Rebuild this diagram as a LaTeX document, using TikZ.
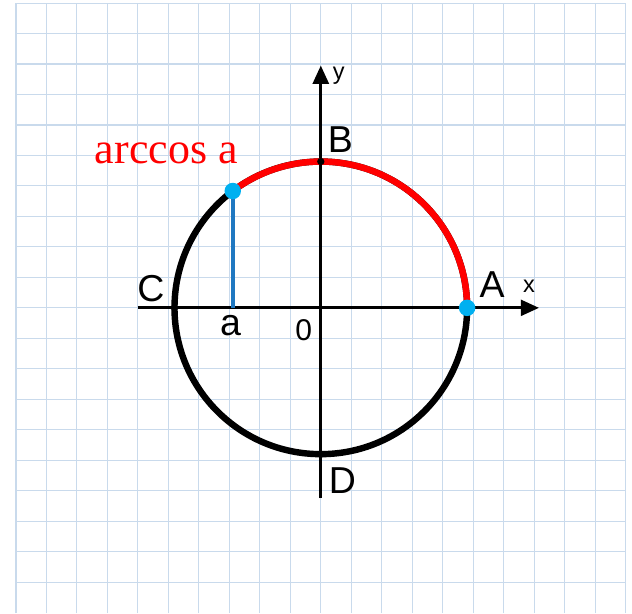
\documentclass[tikz,border=0pt]{standalone}
\usepackage{fontspec}
\setmainfont{Liberation Sans}
\newfontfamily\arcfont{Liberation Serif}
\usetikzlibrary{arrows.meta}
\definecolor{gridBlue}{HTML}{C9DAEC}
\definecolor{arcRed}{HTML}{FF0000}
\definecolor{pointCyan}{HTML}{00B0F0}
\definecolor{lineBlue}{HTML}{1F78C1}

\begin{document}
\begin{tikzpicture}[font=\fontsize{35}{40}\selectfont,
  gridline/.style={gridBlue, line width=1pt},
  axisline/.style={black, line width=2.8pt},
  circleline/.style={black, line width=6pt},
  smalllbl/.style={font=\fontsize{22}{26}\selectfont}]
  \useasboundingbox (-10.525,-10.02) rectangle (10.21,10.1);
  \fill[white] (-10.525,-10.02) rectangle (10.21,10.1);
  \foreach \i in {-10,...,10} \draw[gridline] (\i,-10.02) -- (\i,10);
  \foreach \j in {-9,...,10} \draw[gridline] (-10,\j) -- (10,\j);
  \draw[axisline, -{Triangle[length=0.6cm, width=0.52cm]}] (-6,0) -- (7.16,0);
  \draw[axisline, -{Triangle[length=0.6cm, width=0.52cm]}] (0,-6.24) -- (0,7.95);
  \coordinate (ptA) at (4.8,0);
  \coordinate (ptB) at (0,4.8);
  \coordinate (ptC) at (-4.8,0);
  \coordinate (ptD) at (0,-4.8);
  \coordinate (ptP) at (127:4.8);
  \coordinate (ptPa) at (ptP |- ptA);
  \draw[circleline] (0,0) circle (4.8);
  \draw[arcRed, line width=6pt] (ptA) arc (0:127:4.8);
  \draw[lineBlue, line width=3.5pt] (ptPa) -- (ptP);
  \foreach \p in {ptB,ptC,ptD} \fill[black] (\p) circle (0.12);
  \fill[pointCyan] (ptP) circle (0.27);
  \fill[pointCyan] (ptA) circle (0.27);
  \node (lblA) at (5.62,0.77) {A};
  \node (lblB) at (0.64,5.52) {B};
  \node (lblC) at (-5.57,0.64) {C};
  \node (lblD) at (0.71,-5.68) {D};
  \node (lbla) at (-2.96,-0.575) {a};
  \node[font=\fontsize{28}{32}\selectfont] (lblO) at (-0.56,-0.72) {0};
  \node[smalllbl] (lblx) at (6.83,0.72) {x};
  \node[smalllbl] (lbly) at (0.59,7.62) {y};
  \node[text=arcRed, font=\arcfont\fontsize{41}{48}\selectfont] (lblArc) at (-5.07,5.06) {arccos a};
\end{tikzpicture}
\end{document}
